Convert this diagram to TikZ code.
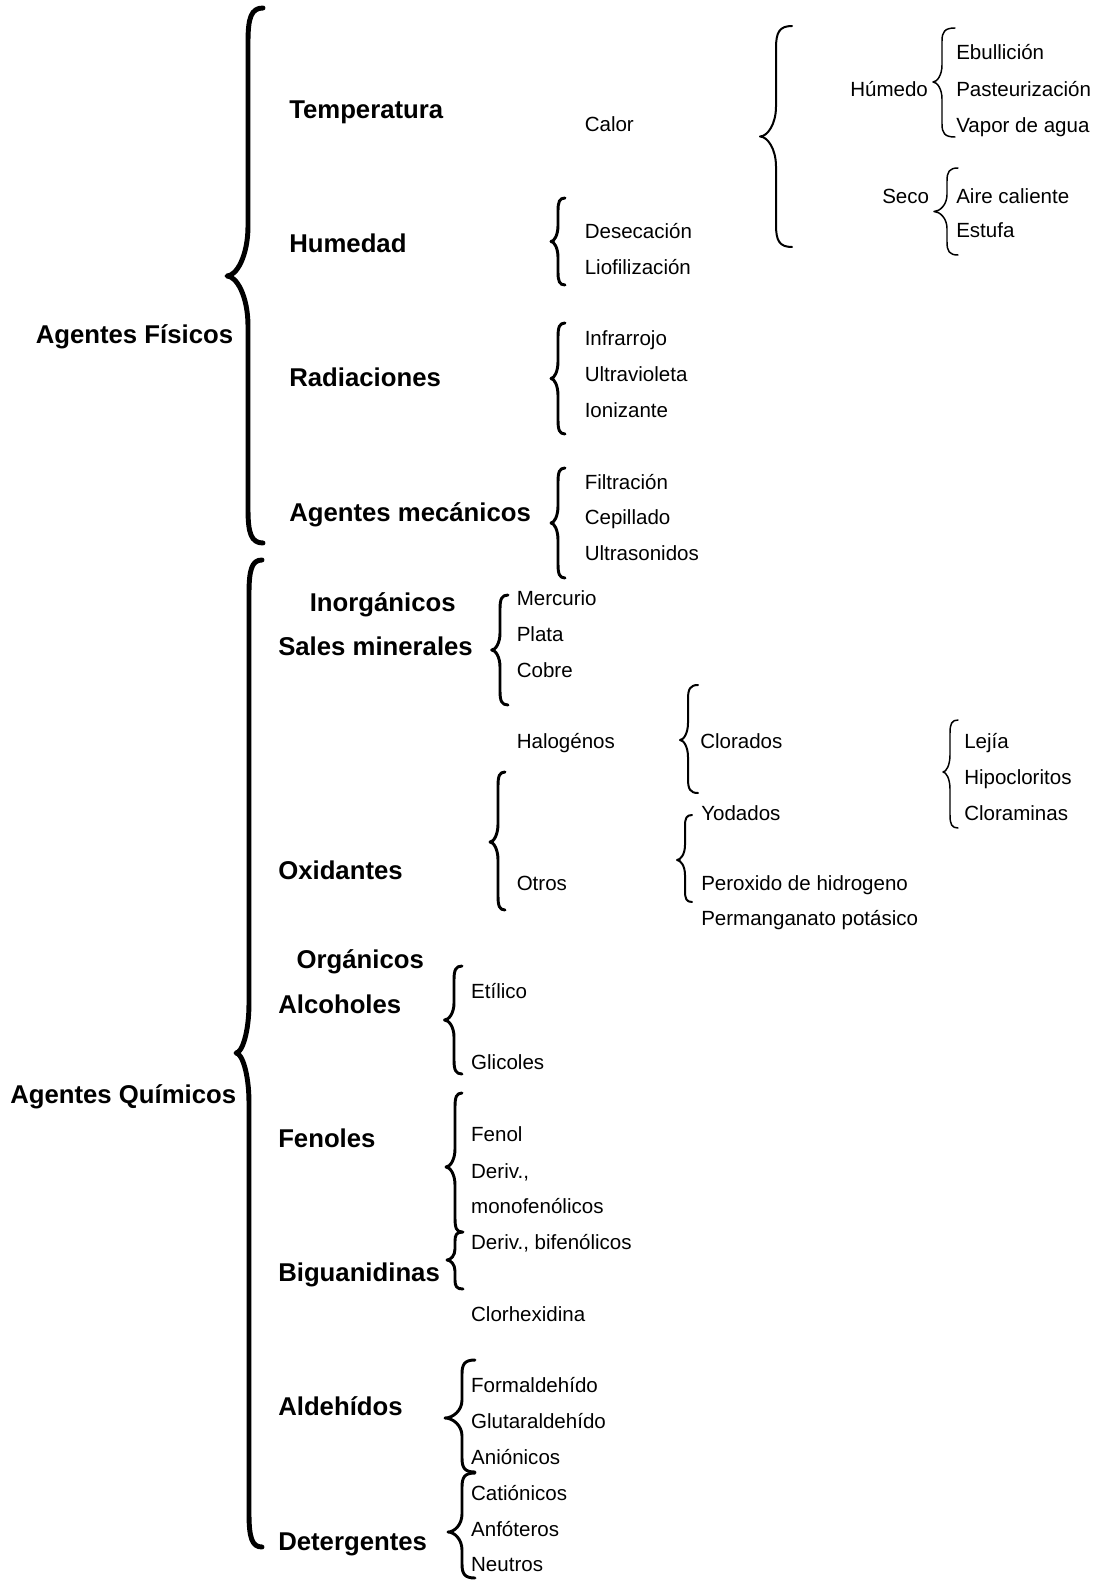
\documentclass[tikz,border=0pt]{standalone}
\usepackage{fontspec}
\setmainfont{Liberation Sans}
% lw, xend, xline, xtip, ytop, ymid, ybot, rEnd, rTip
\newcommand\mybrace[9]{%
\draw[line width=#1, line cap=round, line join=round]
 (#2,#5) .. controls ({#3+0.2*(#2-#3)},{#5}) and ({#3},{#5+0.3*#8}) .. ({#3},{#5+#8})
 -- ({#3},{#6-#9})
 .. controls ({#3},{#6-0.4*#9}) and ({#4+0.45*(#3-#4)},{#6}) .. ({#4},{#6})
 .. controls ({#4+0.45*(#3-#4)},{#6}) and ({#3},{#6+0.4*#9}) .. ({#3},{#6+#9})
 -- ({#3},{#7-#8})
 .. controls ({#3},{#7-0.3*#8}) and ({#3+0.2*(#2-#3)},{#7}) .. ({#2},{#7});}
\tikzset{
 n/.style={anchor=west, inner sep=0pt, text height=11pt, text depth=0pt, font=\fontsize{15.4}{18}\selectfont},
 b/.style={anchor=west, inner sep=0pt, text height=13.8pt, text depth=0pt, font=\fontsize{19.3}{23}\selectfont\bfseries}
}
\begin{document}
\begin{tikzpicture}[x=0.75pt,y=-0.75pt]
\fill[white] (0,0) rectangle (1097,1591);
\useasboundingbox (0,0) rectangle (1097,1591);
% ---------- Agentes fisicos
\node[b] (fisicos) at (35.5,334) {Agentes Físicos};
\node[b] (temp) at (289,109.6) {Temperatura};
\node[b] (hum) at (289,243.5) {Humedad};
\node[b] (rad) at (289,377.5) {Radiaciones};
\node[b] (mec) at (289,512.5) {Agentes mecánicos};
\node[n] (calor) at (584.5,123.8) {Calor};
\node[n] (desec) at (584.5,231.4) {Desecación};
\node[n] (liof) at (584.5,266.9) {Liofilización};
\node[n] (infra) at (584.5,338) {Infrarrojo};
\node[n] (ultrav) at (584.5,374.5) {Ultravioleta};
\node[n] (ioniz) at (584.5,410) {Ionizante};
\node[n] (filt) at (584.5,482) {Filtración};
\node[n] (cepi) at (584.5,517.5) {Cepillado};
\node[n] (ultras) at (584.5,553) {Ultrasonidos};
\node[n] (humedo) at (850,89) {Húmedo};
\node[n] (ebul) at (956,52.5) {Ebullición};
\node[n] (past) at (956,89) {Pasteurización};
\node[n] (vapor) at (956,125) {Vapor de agua};
\node[n] (seco) at (882,196) {Seco};
\node[n] (aire) at (956,196) {Aire caliente};
\node[n] (estufa) at (956,230.5) {Estufa};
% ---------- Agentes quimicos
\node[b] (quimicos) at (10,1094) {Agentes Químicos};
\node[b] (inorg) at (309.5,601.8) {Inorgánicos};
\node[b] (sales) at (278,646.4) {Sales minerales};
\node[b] (oxid) at (278,870.7) {Oxidantes};
\node[b] (org) at (296.3,959) {Orgánicos};
\node[b] (alc) at (278,1004.7) {Alcoholes};
\node[b] (fen) at (278,1138.6) {Fenoles};
\node[b] (bigu) at (278,1272.6) {Biguanidinas};
\node[b] (ald) at (278,1406.5) {Aldehídos};
\node[b] (det) at (278,1541.5) {Detergentes};
\node[n] (merc) at (516.5,598) {Mercurio};
\node[n] (plata) at (516.5,634) {Plata};
\node[n] (cobre) at (516.5,670) {Cobre};
\node[n] (halog) at (516.5,741) {Halogénos};
\node[n] (clorados) at (700,741) {Clorados};
\node[n] (lejia) at (964,741) {Lejía};
\node[n] (hipo) at (964,777) {Hipocloritos};
\node[n] (clora) at (964,813) {Cloraminas};
\node[n] (yodados) at (701,813.5) {Yodados};
\node[n] (otros) at (516.5,883.5) {Otros};
\node[n] (perox) at (701,883.5) {Peroxido de hidrogeno};
\node[n] (perman) at (701,918.5) {Permanganato potásico};
\node[n] (etil) at (470.9,991.5) {Etílico};
\node[n] (glic) at (470.9,1062.5) {Glicoles};
\node[n] (fenol) at (470.9,1134.6) {Fenol};
\node[n] (deriv) at (470.9,1171) {Deriv.,};
\node[n] (monof) at (470.9,1206.6) {monofenólicos};
\node[n] (bifen) at (470.9,1242) {Deriv., bifenólicos};
\node[n] (clorh) at (470.9,1314.2) {Clorhexidina};
\node[n] (form) at (470.9,1385.2) {Formaldehído};
\node[n] (glut) at (470.9,1420.7) {Glutaraldehído};
\node[n] (anion) at (470.9,1457) {Aniónicos};
\node[n] (cation) at (470.9,1493) {Catiónicos};
\node[n] (anfo) at (470.9,1528.8) {Anfóteros};
\node[n] (neut) at (470.9,1564.4) {Neutros};
% ---------- braces
\mybrace{3.7pt}{263}{248}{227}{8}{276}{543}{34}{50}
\mybrace{3.7pt}{262}{249}{236}{560}{1053}{1547}{34}{50}
\mybrace{1.5pt}{792}{776}{760}{26}{136.5}{247}{22}{30}
\mybrace{1.1pt}{955}{942}{933}{28}{82}{137}{13}{17}
\mybrace{1.1pt}{958}{947}{934}{168}{211.5}{255}{13}{17}
\mybrace{2.2pt}{565}{558}{551}{198}{241.5}{285}{13}{16}
\mybrace{2.2pt}{565}{558}{551}{323}{378.5}{434}{14}{17}
\mybrace{2.2pt}{565}{558}{551}{468}{523}{578}{14}{17}
\mybrace{2.2pt}{508}{500}{491.7}{595}{650}{705}{14}{17}
\mybrace{1.5pt}{698}{688}{680}{685}{740}{793}{14}{17}
\mybrace{2.2pt}{505}{498}{490}{772}{842}{910}{14}{18}
\mybrace{1.5pt}{692}{685}{677}{815}{860}{902}{11}{15}
\mybrace{1.1pt}{958}{950}{943}{720}{772}{828}{13}{17}
\mybrace{2.2pt}{462}{454}{444.5}{966}{1020}{1074}{14}{17}
\mybrace{2.2pt}{462}{455}{446}{1093}{1167}{1232}{14}{18}
\mybrace{2.2pt}{463}{455}{447}{1232}{1260}{1289}{9}{11}
\mybrace{2.2pt}{475}{462}{445}{1360}{1418}{1472}{14}{18}
\mybrace{2.2pt}{475}{462}{448}{1473}{1532}{1578}{14}{18}
\end{tikzpicture}
\end{document}
